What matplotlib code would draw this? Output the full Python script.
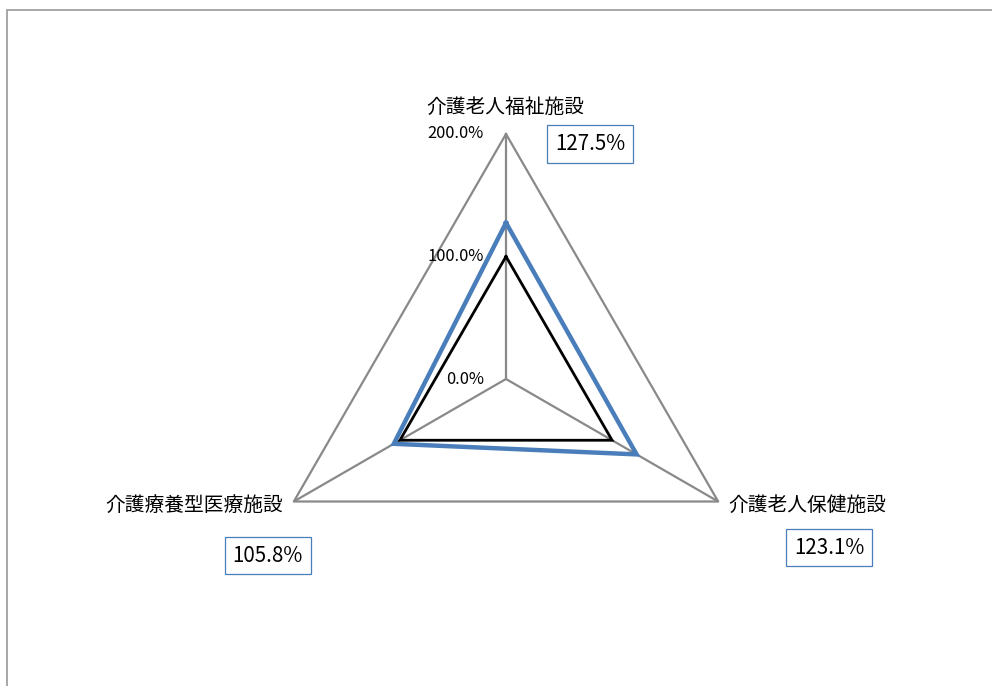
import numpy as np
import matplotlib
matplotlib.use("Agg")
import matplotlib.pyplot as plt
from matplotlib.patches import Rectangle

plt.rcParams['font.family'] = ['Noto Sans CJK JP', 'DejaVu Sans']

categories = ['介護老人福祉施設', '介護老人保健施設', '介護療養型医療施設']
values = [1.275, 1.231, 1.058]      # 実績 (ratio)
baseline = [1.0, 1.0, 1.0]          # 100% reference
value_labels = ['127.5%', '123.1%', '105.8%']
rticks = [0.0, 1.0, 2.0]
rtick_labels = ['0.0%', '100.0%', '200.0%']
rmax = 2.0

W, H = 992, 686
cx, cy = 506, 379          # centre of radar, pixels from top-left
unit = 122.5               # pixels per 100%

theta = np.deg2rad([0, 120, 240])


def to_xy(r):
    r = np.asarray(r, dtype=float)
    return r * np.sin(theta), r * np.cos(theta)


def closed(a):
    return np.append(a, a[0])


fig = plt.figure(figsize=(W / 100, H / 100), dpi=100)
ax = fig.add_axes([0, 0, 1, 1])
ax.set_xlim(-cx / unit, (W - cx) / unit)
ax.set_ylim(-(H - cy) / unit, cy / unit)
ax.axis('off')

grey = '#898989'
# spokes
for t in theta:
    ax.plot([0, rmax * np.sin(t)], [0, rmax * np.cos(t)], color=grey, lw=1.6,
            solid_capstyle='butt', zorder=1)
# outer triangle
ox, oy = to_xy([rmax] * 3)
ax.plot(closed(ox), closed(oy), color=grey, lw=1.6, zorder=1)

# series
bx, by = to_xy(values)
ax.plot(closed(bx), closed(by), color='#4a7ebb', lw=3.2, zorder=2,
        solid_joinstyle='miter')
kx, ky = to_xy(baseline)
ax.plot(closed(kx), closed(ky), color='black', lw=2.0, zorder=3,
        solid_joinstyle='miter')

# radial tick labels
for r, lab in zip(rticks, rtick_labels):
    ax.annotate(lab, xy=(0, r), xytext=(-22, 0), textcoords='offset pixels',
                ha='right', va='center', fontsize=11.8, color='black')

# category labels and value boxes (pixel offsets from each vertex)
label_off = [(-1, 27), (89, -4), (-100, -4)]
box_off = [(84, -10), (111, -46), (-26, -54)]
for i in range(3):
    vx, vy = ox[i], oy[i]
    ax.annotate(categories[i], xy=(vx, vy), xytext=label_off[i],
                textcoords='offset pixels', ha='center', va='center',
                fontsize=14.2, color='black')
    ax.annotate(value_labels[i], xy=(vx, vy), xytext=box_off[i],
                textcoords='offset pixels', ha='center', va='center',
                fontsize=14.8, color='black',
                bbox=dict(boxstyle='square,pad=0.38', fc='white',
                          ec='#4a7ebb', lw=0.9))

# chart frame
fig.add_artist(Rectangle((7 / W, -0.1), 1.2, 1.1 - 10 / H,
                         transform=fig.transFigure, fill=False,
                         ec='#a0a0a0', lw=1.3))

fig.savefig('out.png', dpi=100)
